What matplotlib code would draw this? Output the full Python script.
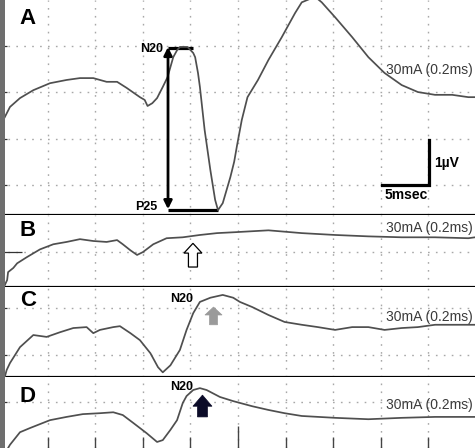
import matplotlib.pyplot as plt
from matplotlib.patches import FancyArrow, Rectangle

plt.rcParams['font.family'] = ['Liberation Sans', 'DejaVu Sans']

# --- traces (time in ms, amplitude in uV) ---
a_t = [0.5, 1.05, 2.1, 3.5, 5.25, 7.0, 8.4, 9.8, 11.2, 12.3, 13.3, 14.7, 15.2, 15.5,
       16.0, 16.5, 17.1, 17.6, 18.2, 18.6, 18.9, 19.7, 20.3, 20.5, 20.8, 21.0, 21.5,
       22.1, 22.6, 22.9, 23.4, 24.2, 24.6, 24.9, 25.4, 26.0, 27.1, 28.2, 29.6, 31.0, 31.7,
       33.1, 33.8, 35.2, 37.0, 38.7, 40.4, 42.2, 43.9, 45.7, 47.5, 49.2, 49.9]
a_v = [1.46, 1.68, 1.87, 2.04, 2.19, 2.26, 2.30, 2.30, 2.22, 2.22, 2.09, 1.89, 1.83, 1.70,
       1.76, 1.87, 2.11, 2.32, 2.75, 2.90, 2.97, 2.97, 2.84, 2.75, 2.41, 2.11, 1.18,
       0.32, -0.32, -0.54, -0.39, 0.17, 0.50, 0.85, 1.40, 1.89, 2.26, 2.69, 3.18, 3.70, 3.93,
       4.05, 3.93, 3.61, 3.18, 2.75, 2.41, 2.15, 2.00, 1.94, 1.94, 1.89, 1.89]

b_t = [0.5, 0.75, 0.85, 1.4, 1.8, 2.8, 4.2, 5.6, 7.0, 8.4, 9.8, 11.2, 12.3, 12.9, 13.7,
       14.4, 15.0, 16.1, 17.5, 19.2, 21.0, 22.8, 24.7, 28.2, 31.7, 35.2, 38.7, 42.2,
       45.7, 49.2, 49.9]
b_v = [-0.71, -0.60, -0.43, -0.34, -0.24, -0.11, 0.06, 0.17, 0.22, 0.28, 0.24, 0.22,
       0.26, 0.17, 0.04, -0.06, 0.0, 0.17, 0.30, 0.32, 0.37, 0.41, 0.43, 0.47, 0.41,
       0.37, 0.34, 0.32, 0.32, 0.30, 0.32]

c_t = [0.5, 0.7, 1.05, 2.1, 3.5, 4.9, 6.3, 7.7, 9.1, 9.8, 10.5, 11.9, 12.6, 13.7, 14.7,
       15.8, 16.6, 17.1, 17.9, 18.9, 19.6, 20.3, 21.0, 22.1, 23.4, 24.5, 25.2, 26.5,
       28.2, 29.9, 31.7, 33.4, 35.2, 37.0, 38.7, 40.4, 42.2, 43.9, 45.7, 47.5, 49.9]
c_v = [-0.47, -0.32, -0.17, 0.17, 0.43, 0.39, 0.49, 0.58, 0.60, 0.47, 0.54, 0.60, 0.62,
       0.47, 0.32, 0.04, -0.26, -0.37, -0.22, 0.11, 0.54, 0.90, 1.14, 1.23, 1.29, 1.23,
       1.14, 1.03, 0.86, 0.71, 0.65, 0.60, 0.54, 0.60, 0.60, 0.54, 0.58, 0.60, 0.65,
       0.65, 0.65]

d_t = [0.85, 1.05, 2.1, 3.15, 5.25, 7.0, 8.7, 10.5, 11.9, 12.9, 14.0, 15.4, 16.5, 17.1,
       17.9, 18.6, 19.2, 19.6, 20.3, 21.0, 21.7, 23.1, 24.5, 26.5, 28.2, 29.9, 31.7,
       35.2, 38.7, 42.2, 45.7, 49.9]
d_v = [-0.99, -0.92, -0.65, -0.56, -0.39, -0.32, -0.26, -0.24, -0.22, -0.28, -0.45,
       -0.67, -0.86, -0.82, -0.60, -0.39, -0.02, 0.13, 0.26, 0.30, 0.26, 0.11, 0.02,
       -0.09, -0.17, -0.24, -0.30, -0.34, -0.37, -0.34, -0.32, -0.32]

labels = ['A', 'B', 'C', 'D']
stim_label = '30mA (0.2ms)'
x_grid = [5, 10, 15, 20, 25, 30, 35, 40, 45]

# panel layout in pixels (top, bottom) and y-limits in uV
H = 448
panels = [
    dict(t=a_t, v=a_v, top=0, bot=215, ylim=(-0.645, 3.98), ygrid=[0, 1, 2, 3],
         lab_v=3.59, stim_v=2.47, tick=5),
    dict(t=b_t, v=b_v, top=215, bot=287, ylim=(-0.75, 0.80), ygrid=[0],
         lab_v=0.47, stim_v=0.52, tick=16),
    dict(t=c_t, v=c_v, top=287, bot=377, ylim=(-0.47, 1.46), ygrid=[0, 1],
         lab_v=1.18, stim_v=0.82, tick=5),
    dict(t=d_t, v=d_v, top=377, bot=448, ylim=(-0.99, 0.54), ygrid=[0],
         lab_v=0.11, stim_v=-0.06, tick=5),
]

fig = plt.figure(figsize=(4.75, 4.48), dpi=100)
axes = []
for i, p in enumerate(panels):
    ax = fig.add_axes([0, (H - p['bot']) / H, 1, (p['bot'] - p['top']) / H])
    ax.set_xlim(0, 49.9)
    ax.set_ylim(*p['ylim'])
    ax.plot(p['t'], p['v'], color='#4f4f4f', lw=1.25, zorder=3, clip_on=True)
    ax.set_xticks(x_grid)
    ax.set_yticks(p['ygrid'])
    ax.grid(True, color='#a8a8a8', linestyle=(0, (1.2, 4.5)), lw=1.0)
    ax.tick_params(axis='y', direction='in', length=p['tick'], width=0.9,
                   color='#333333', labelleft=False, pad=0)
    ax.tick_params(axis='x', length=0, labelbottom=False)
    for s in ['top', 'left', 'right']:
        ax.spines[s].set_visible(False)
    if i < 3:
        ax.spines['bottom'].set_linewidth(2.3)
    else:
        ax.spines['bottom'].set_visible(False)
    ax.text(2.94, p['lab_v'], labels[i], fontsize=16, fontweight='bold',
            ha='center', va='center')
    ax.text(49.7, p['stim_v'], stim_label, fontsize=10, color='#3a3a3a',
            ha='right', va='center', zorder=4)
    axes.append(ax)

axA, axB, axC, axD = axes

# bottom ticks on D (middle one longer)
axD.set_xticks([25])
axD.set_xticks([5, 10, 15, 20, 30, 35, 40, 45], minor=True)
axD.tick_params(axis='x', which='major', direction='in', length=16, width=1.0,
                color='#444444')
axD.tick_params(axis='x', which='minor', direction='in', length=8, width=1.0,
                color='#444444')
axD.grid(True, which='minor', axis='x', color='#a8a8a8', linestyle=(0, (1.2, 4.5)), lw=1.0)

# panel A: N20 / P25 measurement
axA.annotate('', xy=(17.65, 2.97), xytext=(17.65, -0.52),
             arrowprops=dict(arrowstyle='<|-|>', color='black', lw=2.0,
                             mutation_scale=12, shrinkA=0, shrinkB=0))
axA.plot([17.65, 20.3], [2.95, 2.95], color='black', lw=2.3, solid_capstyle='butt')
axA.plot([17.65, 22.9], [-0.54, -0.54], color='black', lw=2.3, solid_capstyle='butt')
axA.text(17.1, 2.92, 'N20', fontsize=9, fontweight='bold', ha='right', va='center')
axA.text(16.5, -0.48, 'P25', fontsize=9, fontweight='bold', ha='right', va='center')

# scale bar
axA.plot([40.1, 45.05, 45.05], [0, 0, 0.97], color='black', lw=2.3,
         solid_joinstyle='miter', zorder=5)
axA.text(45.6, 0.47, '1µV', fontsize=10, fontweight='bold', ha='left', va='center')
axA.text(42.7, -0.22, '5msec', fontsize=10, fontweight='bold', ha='center', va='center')

# N20 labels in C and D
axC.text(20.3, 1.20, 'N20', fontsize=9, fontweight='bold', ha='right', va='center')
axD.text(20.3, 0.32, 'N20', fontsize=9, fontweight='bold', ha='right', va='center')

# arrows
axB.add_patch(FancyArrow(20.27, -0.32, 0, 0.51, width=0.95, head_width=1.89,
                         head_length=0.21, length_includes_head=True,
                         facecolor='white', edgecolor='black', lw=0.9, zorder=5))
axC.add_patch(FancyArrow(22.43, 0.65, 0, 0.38, width=0.84, head_width=1.79,
                         head_length=0.17, length_includes_head=True,
                         facecolor='#9a9a9a', edgecolor='#9a9a9a', lw=0.5, zorder=5))
axD.add_patch(FancyArrow(21.27, -0.32, 0, 0.47, width=1.05, head_width=2.0,
                         head_length=0.24, length_includes_head=True,
                         facecolor='#0b0b28', edgecolor='#0b0b28', lw=0.5, zorder=5))

# dark scan band on the left edge
fig.patches.append(Rectangle((0, 0), 5 / 475, 1, transform=fig.transFigure,
                             facecolor='#6e6e6e', edgecolor='none', zorder=10))

fig.savefig('out.png', dpi=100)
